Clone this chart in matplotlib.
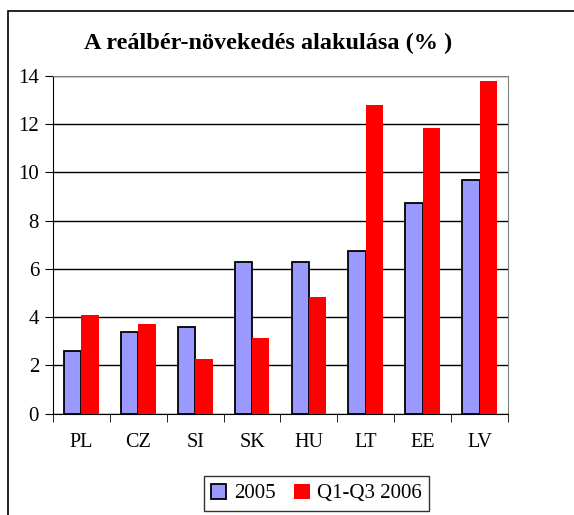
import matplotlib.pyplot as plt
import numpy as np
from matplotlib.patches import Rectangle

# adatok
orszagok = ["PL", "CZ", "SI", "SK", "HU", "LT", "EE", "LV"]
ertek_2005 = [2.6, 3.4, 3.6, 6.3, 6.3, 6.75, 8.75, 9.7]
ertek_2006 = [4.1, 3.7, 2.25, 3.15, 4.85, 12.8, 11.85, 13.8]

plt.rcParams['font.family'] = ['Liberation Serif', 'DejaVu Serif']

fig = plt.figure(figsize=(5.74, 5.15), dpi=100)
ax = fig.add_axes([0.0923, 0.1967, 0.7927, 0.6557])

# keret az egesz abra korul
fig.patches.append(Rectangle((8 / 574, -0.05), 1.2, 1 - 11 / 515 + 0.05,
                             transform=fig.transFigure, fill=False,
                             edgecolor='black', linewidth=1.2))

x = np.arange(len(orszagok))
w = 0.305
ax.bar(x - w / 2, ertek_2005, w, color='#9999FF', edgecolor='black',
       linewidth=1.3, label='2005', zorder=3)
ax.bar(x + w / 2, ertek_2006, w, color='#FF0000', label='Q1-Q3 2006', zorder=3)

ax.set_xlim(-0.5, len(orszagok) - 0.5)
ax.set_ylim(0, 14)
ax.set_yticks(range(0, 15, 2))
ax.yaxis.grid(True, color='black', linewidth=1, zorder=0)

ax.set_xticks(x)
ax.set_xticklabels(orszagok, fontsize=14.5)
ax.tick_params(axis='x', length=0, pad=14)
ax.set_xticks(np.arange(-0.5, len(orszagok)), minor=True)
ax.tick_params(axis='x', which='minor', length=6, color='black')
ax.tick_params(axis='y', labelsize=15, length=6, color='black', pad=4)

for s in ['top', 'right']:
    ax.spines[s].set_color('#808080')
ax.spines['left'].set_color('black')
ax.spines['bottom'].set_color('black')

fig.text(0.467, 0.915, 'A reálbér-növekedés alakulása (% )', ha='center',
         va='center', fontsize=17.5, fontweight='bold')

fig.legend(loc='center', bbox_to_anchor=(0.551, 0.0417), ncol=2, fontsize=15,
           frameon=True, fancybox=False, edgecolor='black', handlelength=0.75,
           handleheight=0.75, handletextpad=0.35, columnspacing=0.9,
           borderpad=0.35, borderaxespad=0)

plt.savefig('out.png', dpi=100)
